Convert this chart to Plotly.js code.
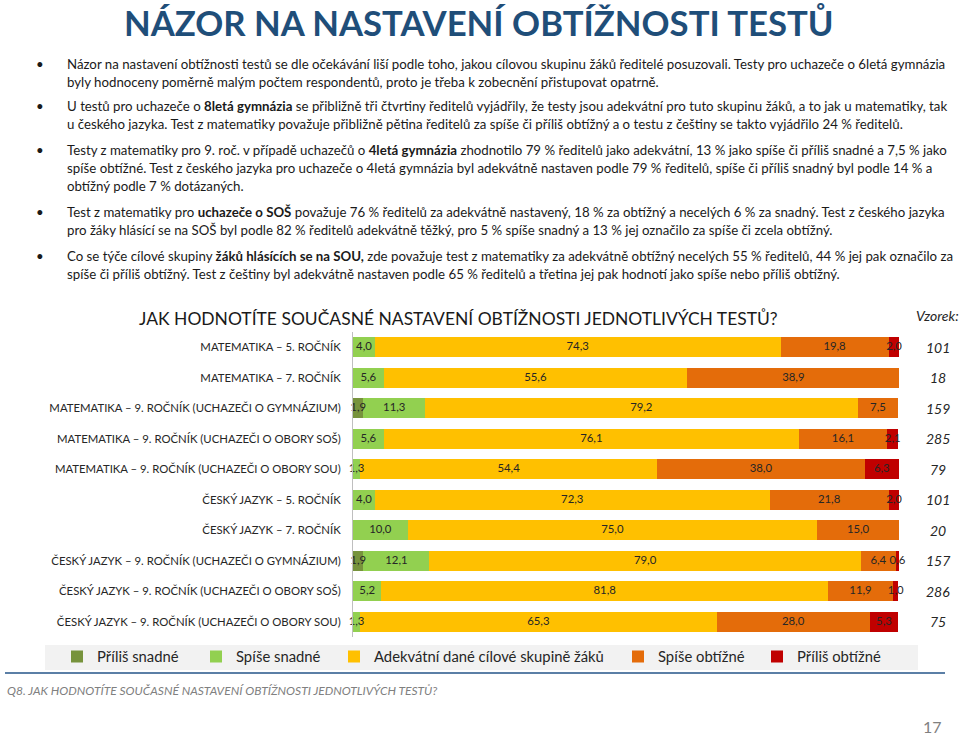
<!DOCTYPE html>
<html>
<head>
<meta charset="utf-8">
<script src="https://cdn.plot.ly/plotly-3.0.1.min.js"></script>
<style>html,body{margin:0;padding:0;background:#fff;}#chart{width:960px;height:736px;}</style>
</head>
<body>
<div id="chart"></div>
<script>
// ---- data ----
const categories = [
  "MATEMATIKA – 5. ROČNÍK",
  "MATEMATIKA – 7. ROČNÍK",
  "MATEMATIKA – 9. ROČNÍK (UCHAZEČI O GYMNÁZIUM)",
  "MATEMATIKA – 9. ROČNÍK (UCHAZEČI O OBORY SOŠ)",
  "MATEMATIKA – 9. ROČNÍK (UCHAZEČI O OBORY SOU)",
  "ČESKÝ JAZYK – 5. ROČNÍK",
  "ČESKÝ JAZYK – 7. ROČNÍK",
  "ČESKÝ JAZYK – 9. ROČNÍK (UCHAZEČI O GYMNÁZIUM)",
  "ČESKÝ JAZYK – 9. ROČNÍK (UCHAZEČI O OBORY SOŠ)",
  "ČESKÝ JAZYK – 9. ROČNÍK (UCHAZEČI O OBORY SOU)"
];
const prilisSnadne  = [0,   0,    1.9, 0,    0,    0,    0,    1.9, 0,    0];
const spiseSnadne   = [4.0, 5.6,  11.3, 5.6, 1.3,  4.0,  10.0, 12.1, 5.2,  1.3];
const adekvatni     = [74.3, 55.6, 79.2, 76.1, 54.4, 72.3, 75.0, 79.0, 81.8, 65.3];
const spiseObtizne  = [19.8, 38.9, 7.5, 16.1, 38.0, 21.8, 15.0, 6.4, 11.9, 28.0];
const prilisObtizne = [2.0, 0,    0,    2.1,  6.3,  2.0,  0,    0.6, 1.0,  5.3];
const vzorek = [101, 18, 159, 285, 79, 101, 20, 157, 286, 75];
const seriesNames = ["Příliš snadné", "Spíše snadné", "Adekvátní dané cílové skupině žáků", "Spíše obtížné", "Příliš obtížné"];

const title = "NÁZOR NA NASTAVENÍ OBTÍŽNOSTI TESTŮ";
const chartTitle = "JAK HODNOTÍTE SOUČASNÉ NASTAVENÍ OBTÍŽNOSTI JEDNOTLIVÝCH TESTŮ?";
const footer = "Q8. JAK HODNOTÍTE SOUČASNÉ NASTAVENÍ OBTÍŽNOSTI JEDNOTLIVÝCH TESTŮ?";
const pageNo = "17";
const paragraphs = [
  ["Názor na nastavení obtížnosti testů se dle očekávání liší podle toho, jakou cílovou skupinu žáků ředitelé posuzovali. Testy pro uchazeče o 6letá gymnázia",
   "byly hodnoceny poměrně malým počtem respondentů, proto je třeba k zobecnění přistupovat opatrně."],
  ["U testů pro uchazeče o <b>8letá gymnázia</b> se přibližně tři čtvrtiny ředitelů vyjádřily, že testy jsou adekvátní pro tuto skupinu žáků, a to jak u matematiky, tak",
   "u českého jazyka. Test z matematiky považuje přibližně pětina ředitelů za spíše či příliš obtížný a o testu z češtiny se takto vyjádřilo 24 % ředitelů."],
  ["Testy z matematiky pro 9. roč. v případě uchazečů o <b>4letá gymnázia</b> zhodnotilo 79 % ředitelů jako adekvátní, 13 % jako spíše či příliš snadné a 7,5 % jako",
   "spíše obtížné. Test z českého jazyka pro uchazeče o 4letá gymnázia byl adekvátně nastaven podle 79 % ředitelů, spíše či příliš snadný byl podle 14 % a",
   "obtížný podle 7 % dotázaných."],
  ["Test z matematiky pro <b>uchazeče o SOŠ</b> považuje 76 % ředitelů za adekvátně nastavený, 18 % za obtížný a necelých 6 % za snadný. Test z českého jazyka",
   "pro žáky hlásící se na SOŠ byl podle 82 % ředitelů adekvátně těžký, pro 5 % spíše snadný a 13 % jej označilo za spíše či zcela obtížný."],
  ["Co se týče cílové skupiny <b>žáků hlásících se na SOU,</b> zde považuje test z matematiky za adekvátně obtížný necelých 55 % ředitelů, 44 % jej pak označilo za",
   "spíše či příliš obtížný. Test z češtiny byl adekvátně nastaven podle 65 % ředitelů a třetina jej pak hodnotí jako spíše nebo příliš obtížný."]
];
const paragraphTops = [64, 106, 150, 212, 256];

// ---- style ----
const colors = ["#77933C", "#92D050", "#FFC000", "#E46C0A", "#C00000"];
const FONT = "Lato, 'Liberation Sans', Arial, sans-serif";
const W = 960, H = 736;
const M = {l: 353, r: 61, t: 332, b: 99};
const PW = W - M.l - M.r, PH = H - M.t - M.b;
const X = px => (px - M.l) / PW;
const Y = py => (H - M.b - py) / PH;

// measure text (with <b> parts) to choose font sizes that span the reference widths
const cvs = document.createElement("canvas").getContext("2d");
function measure(text, weight, style) {
  let w = 0;
  text.split(/(<b>.*?<\/b>)/).forEach(part => {
    const bold = part.startsWith("<b>");
    const t = part.replace(/<[^>]+>/g, "");
    cvs.font = (style || "normal") + " " + (bold ? "bold" : (weight || "normal")) + " 100px " + FONT;
    w += cvs.measureText(t).width;
  });
  return w;
}
function fit(text, width, weight, style) { return 100 * width / measure(text, weight, style); }
const titleSize = fit(title, 712, "bold");
const bodySize = Math.min(fit(paragraphs[0][0], 890), fit(paragraphs[1][0], 890), fit(paragraphs[4][0], 888), fit(paragraphs[3][0], 890));
const chartTitleSize = fit(chartTitle, 640);
const tickSize = fit(categories[2], 292);
const legendSize = fit(seriesNames[2], 230);
const footerSize = fit(footer, 432, "normal", "italic");
const labelSize = Math.min(tickSize, 13);

const allSeries = [prilisSnadne, spiseSnadne, adekvatni, spiseObtizne, prilisObtizne];
const legendTextStarts = [97, 236, 374, 658, 797];

const traces = allSeries.map((vals, i) => ({
  type: "bar",
  orientation: "h",
  name: seriesNames[i],
  y: categories,
  x: vals,
  marker: {color: colors[i]},
  hoverinfo: "skip",
  legend: i === 0 ? "legend" : "legend" + (i + 1)
}));

// value labels: one text-only scatter layer above all bars, centred in each segment
const lblX = [], lblY = [], lblT = [];
categories.forEach((c, r) => {
  let cum = 0;
  allSeries.forEach(vals => {
    const v = vals[r];
    if (v > 0) {
      lblX.push(cum + v / 2); lblY.push(c); lblT.push(v.toFixed(1).replace(".", ","));
    }
    cum += v;
  });
});
traces.push({
  type: "scatter", mode: "text", x: lblX, y: lblY, text: lblT,
  textposition: "middle center", cliponaxis: false, showlegend: false, hoverinfo: "skip",
  textfont: {family: FONT, size: labelSize, color: "#262626"}
});

const annotations = [];
annotations.push({text: "<b>" + title + "</b>", x: X(479), y: Y(22), xref: "paper", yref: "paper",
  xanchor: "center", yanchor: "middle", showarrow: false, font: {family: FONT, size: titleSize, color: "#1F4E79"}});
paragraphs.forEach((lines, pi) => {
  annotations.push({text: "•", x: X(40), y: Y(paragraphTops[pi]), xref: "paper", yref: "paper",
    xanchor: "center", yanchor: "middle", showarrow: false, font: {family: FONT, size: bodySize, color: "#1a1a1a"}});
  lines.forEach((ln, li) => {
    annotations.push({text: ln, x: X(65), y: Y(paragraphTops[pi] + li * 18), xref: "paper", yref: "paper",
      xanchor: "left", yanchor: "middle", showarrow: false, align: "left",
      font: {family: FONT, size: bodySize, color: "#1a1a1a"}});
  });
});
annotations.push({text: chartTitle, x: X(458), y: Y(318), xref: "paper", yref: "paper",
  xanchor: "center", yanchor: "middle", showarrow: false, font: {family: FONT, size: chartTitleSize, color: "#1a1a1a"}});
annotations.push({text: "<i>Vzorek:</i>", x: X(937), y: Y(315), xref: "paper", yref: "paper",
  xanchor: "center", yanchor: "middle", showarrow: false, font: {family: FONT, size: 14, color: "#262626"}});
categories.forEach((c, i) => {
  annotations.push({text: "<i>" + vzorek[i] + "</i>", x: X(938), y: c, xref: "paper", yref: "y",
    xanchor: "center", yanchor: "middle", showarrow: false, font: {family: FONT, size: 14, color: "#262626"}});
});
annotations.push({text: "<i>" + footer + "</i>", x: X(5), y: Y(690), xref: "paper", yref: "paper",
  xanchor: "left", yanchor: "middle", showarrow: false, font: {family: FONT, size: footerSize, color: "#808080"}});
annotations.push({text: pageNo, x: X(932), y: Y(726), xref: "paper", yref: "paper",
  xanchor: "center", yanchor: "middle", showarrow: false, font: {family: FONT, size: 16, color: "#808080"}});

const shapes = [
  {type: "rect", xref: "paper", yref: "paper", x0: X(45), x1: X(918), y0: Y(645), y1: Y(670),
   fillcolor: "#F2F2F2", line: {width: 0}, layer: "below"},
  {type: "line", xref: "paper", yref: "paper", x0: X(5), x1: X(945), y0: Y(673), y1: Y(673),
   line: {color: "#5B7FA6", width: 2}}
];

const layout = {
  width: W, height: H,
  margin: M,
  paper_bgcolor: "#ffffff", plot_bgcolor: "rgba(0,0,0,0)",
  barmode: "stack",
  bargap: 0.34,
  font: {family: FONT, color: "#262626"},
  xaxis: {range: [0, 100], visible: false, fixedrange: true},
  yaxis: {type: "category", range: [9.5, -0.5], showline: true, linecolor: "#BFBFBF", linewidth: 1,
          showgrid: false, zeroline: false, ticks: "", ticklabelstandoff: 9,
          tickfont: {family: FONT, size: tickSize, color: "#262626"}},
  showlegend: true,
  annotations: annotations,
  shapes: shapes
};
legendTextStarts.forEach((tx, i) => {
  const key = i === 0 ? "legend" : "legend" + (i + 1);
  layout[key] = {orientation: "h", x: X(tx - 40), y: Y(657), xanchor: "left", yanchor: "middle",
    bgcolor: "rgba(0,0,0,0)", borderwidth: 0, font: {family: FONT, size: legendSize, color: "#262626"},
    itemclick: false, itemdoubleclick: false};
});

Plotly.newPlot("chart", traces, layout, {staticPlot: true, displayModeBar: false});
</script>
</body>
</html>
